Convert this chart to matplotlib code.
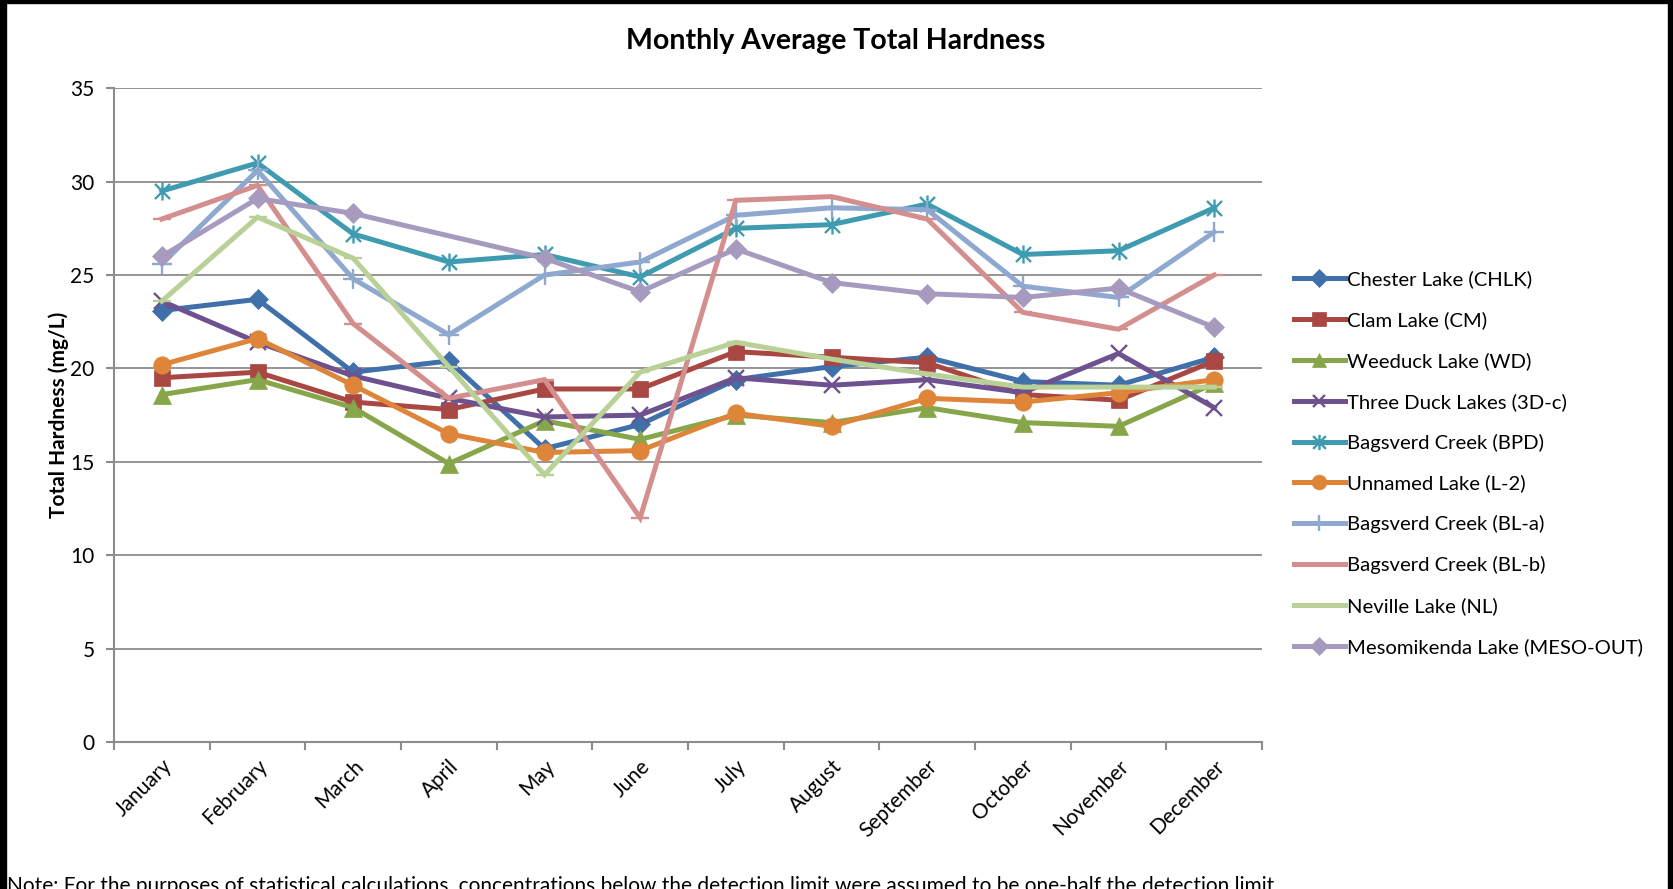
import matplotlib
matplotlib.use("Agg")
import matplotlib.pyplot as plt
import numpy as np
from matplotlib.path import Path
from matplotlib.patches import Rectangle

months = ["January", "February", "March", "April", "May", "June", "July",
          "August", "September", "October", "November", "December"]

chester = [23.1, 23.7, 19.8, 20.4, 15.7, 17.0, 19.4, 20.1, 20.6, 19.3, 19.1, 20.6]
clam = [19.5, 19.8, 18.2, 17.8, 18.9, 18.9, 20.9, 20.6, 20.3, 18.6, 18.3, 20.4]
weeduck = [18.6, 19.4, 17.9, 14.9, 17.2, 16.2, 17.5, 17.1, 17.9, 17.1, 16.9, 19.2]
three_duck = [23.6, 21.4, 19.6, 18.4, 17.4, 17.5, 19.5, 19.1, 19.4, 18.7, 20.8, 17.9]
bpd = [29.5, 31.0, 27.2, 25.7, 26.1, 24.9, 27.5, 27.7, 28.8, 26.1, 26.3, 28.6]
unnamed = [20.2, 21.6, 19.1, 16.5, 15.5, 15.6, 17.6, 16.9, 18.4, 18.2, 18.7, 19.4]
bl_a = [25.6, 30.6, 24.8, 21.8, 25.0, 25.7, 28.2, 28.6, 28.5, 24.4, 23.8, 27.3]
bl_b = [28.0, 29.8, 22.4, 18.4, 19.4, 12.0, 29.0, 29.2, 28.0, 23.0, 22.1, 25.0]
neville = [23.6, 28.1, 25.9, 20.1, 14.3, 19.8, 21.4, 20.5, 19.7, 19.0, 19.0, 19.0]
meso = [26.0, 29.1, 28.3, np.nan, 25.9, 24.1, 26.4, 24.6, 24.0, 23.8, 24.3, 22.2]

series_names = ["Chester Lake (CHLK)", "Clam Lake (CM)", "Weeduck Lake (WD)",
                "Three Duck Lakes (3D-c)", "Bagsverd Creek (BPD)", "Unnamed Lake (L-2)",
                "Bagsverd Creek (BL-a)", "Bagsverd Creek (BL-b)", "Neville Lake (NL)",
                "Mesomikenda Lake (MESO-OUT)"]
series_values = [chester, clam, weeduck, three_duck, bpd, unnamed, bl_a, bl_b, neville, meso]
colors = ["#3F70AA", "#A94743", "#87A64A", "#6E5290", "#3E9BB0", "#DE8539",
          "#8FA8D0", "#D48E8E", "#B9D097", "#A79ABF"]

star = Path([(-1, -1), (1, 1), (-1, 1), (1, -1), (0, -1.2), (0, 1.2)],
            [Path.MOVETO, Path.LINETO, Path.MOVETO, Path.LINETO, Path.MOVETO, Path.LINETO])

markers = ["D", "s", "^", "x", star, "o", "+", "_", "_", "D"]
msizes = [10.5, 11.5, 12.5, 11, 13, 12.5, 14, 13, 13, 10.5]
filled = [True, True, True, False, False, True, False, False, False, True]

FONT = ["Lato", "DejaVu Sans"]
plt.rcParams['font.family'] = FONT

fig = plt.figure(figsize=(16.74, 8.89), dpi=100)
ax = fig.add_axes([0.0681, 0.1654, 0.6858, 0.7353])

x = np.arange(len(months))
for name, vals, c, m, ms, f in zip(series_names, series_values, colors, markers, msizes, filled):
    v = np.array(vals, dtype=float)
    ok = ~np.isnan(v)
    kw = dict(color=c, lw=3.6, marker=m, ms=ms, label=name, solid_joinstyle='miter')
    if f:
        kw.update(mfc=c, mec=c, mew=0.5)
    else:
        kw.update(mec=c, mew=1.7)
    ax.plot(x[ok], v[ok], **kw)

ax.set_xlim(-0.5, 11.5)
ax.set_ylim(0, 35)
ax.set_yticks(np.arange(0, 36, 5))
ax.yaxis.grid(True, color="#8C8C8C", lw=1.3)
ax.set_axisbelow(True)
for s in ["top", "right"]:
    ax.spines[s].set_visible(False)
for s in ["left", "bottom"]:
    ax.spines[s].set_color("#8C8C8C")
    ax.spines[s].set_linewidth(1.5)

ax.set_xticks(x)
ax.set_xticklabels(months, rotation=45, ha="right", rotation_mode="anchor", fontsize=15)
ax.tick_params(axis="x", which="major", length=0, pad=10)
ax.set_xticks(np.arange(-0.5, 12, 1), minor=True)
ax.tick_params(axis="x", which="minor", length=6, color="#8C8C8C", width=1.5)
ax.tick_params(axis="y", length=6, color="#8C8C8C", width=1.5, labelsize=15, pad=8)

ax.set_ylabel("Total Hardness (mg/L)", fontsize=15, fontweight="bold", labelpad=1)

fig.text(0.4994, 0.954, "Monthly Average Total Hardness", ha="center", va="center",
         fontsize=20.5, fontweight="bold")

leg = fig.legend(loc="center left", bbox_to_anchor=(0.762, 0.479), frameon=False,
                 fontsize=14.6, handlelength=2.5, handletextpad=0.12, labelspacing=1.13,
                 numpoints=1, markerscale=0.85)

fig.text(0.004, 0.0146, "Note: For the purposes of statistical calculations, concentrations below the detection limit were assumed to be one-half the detection limit.",
         ha="left", va="top", fontsize=15)

# black frame (top, left, right)
fig.patches.append(Rectangle((0, 0), 6 / 1674, 1, transform=fig.transFigure, color="black", zorder=10))
fig.patches.append(Rectangle((1 - 6 / 1674, 0), 6 / 1674, 1, transform=fig.transFigure, color="black", zorder=10))
fig.patches.append(Rectangle((0, 1 - 3 / 889), 1, 3 / 889, transform=fig.transFigure, color="black", zorder=10))

fig.savefig("out.png", dpi=100)
